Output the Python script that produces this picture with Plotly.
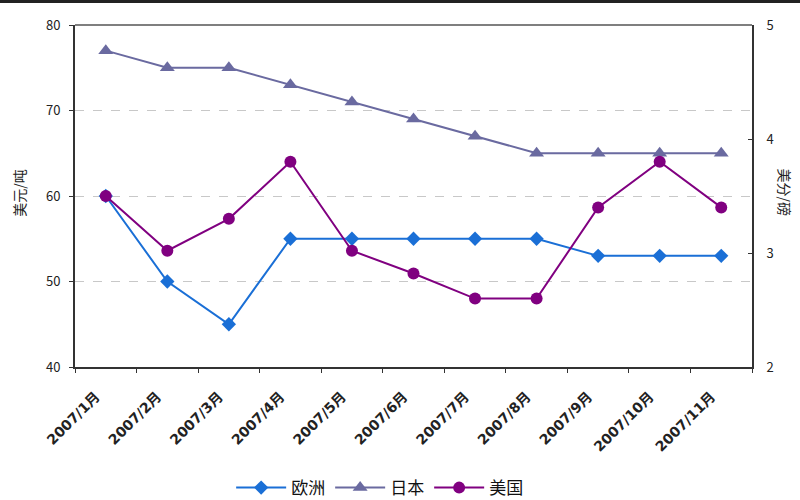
import plotly.graph_objects as go

months = ["2007/1月", "2007/2月", "2007/3月", "2007/4月", "2007/5月", "2007/6月",
          "2007/7月", "2007/8月", "2007/9月", "2007/10月", "2007/11月"]
europe = [60, 50, 45, 55, 55, 55, 55, 55, 53, 53, 53]
japan = [77, 75, 75, 73, 71, 69, 67, 65, 65, 65, 65]
usa = [3.5, 3.02, 3.3, 3.8, 3.02, 2.82, 2.6, 2.6, 3.4, 3.8, 3.4]

left_ticks = [40, 50, 60, 70, 80]
right_ticks = [2, 3, 4, 5]

FONT = "Noto Sans CJK SC, Liberation Sans, sans-serif"
TICKFONT = "DejaVu Sans, Noto Sans CJK SC, sans-serif"

fig = go.Figure()
fig.add_trace(go.Scatter(x=months, y=europe, name="欧洲", mode="lines+markers",
                         line=dict(color="#1a6fd6", width=2),
                         marker=dict(symbol="diamond", size=11, color="#1a6fd6")))
fig.add_trace(go.Scatter(x=months, y=japan, name="日本", mode="lines+markers",
                         line=dict(color="#6a6aa0", width=2),
                         marker=dict(symbol="triangle-up", size=13, color="#6a6aa0")))
fig.add_trace(go.Scatter(x=months, y=usa, name="美国", mode="lines+markers", yaxis="y2",
                         line=dict(color="#800080", width=2),
                         marker=dict(symbol="circle", size=12, color="#800080")))

fig.update_layout(
    width=800, height=500,
    paper_bgcolor="white", plot_bgcolor="white",
    margin=dict(l=75, r=48, t=25, b=133, autoexpand=False),
    font=dict(family=FONT, size=12, color="#222"),
    showlegend=True,
    legend=dict(orientation="h", x=0.45, xanchor="center", y=-0.354, yanchor="middle",
                font=dict(size=17, color="#111"), itemwidth=50, tracegroupgap=0),
    xaxis=dict(type="category", range=[-0.5, 10.5], tickangle=-45, automargin=False,
               showline=True, linecolor="#333", linewidth=2, mirror=False,
               ticks="outside", ticklen=4, tickcolor="#333", tickson="boundaries",
               ticklabelstandoff=14, ticklabelshift=-10,
               showgrid=False,
               tickfont=dict(family=TICKFONT, size=14, color="#222", weight="bold")),
    yaxis=dict(range=[40, 80], tickvals=left_ticks, automargin=False,
               showline=True, linecolor="#333", linewidth=2,
               ticks="outside", ticklen=4, tickcolor="#333", ticklabelstandoff=6,
               showgrid=True, gridcolor="#c8c8c8", griddash="dash", gridwidth=1,
               zeroline=False, tickfont=dict(size=13, color="#222")),
    yaxis2=dict(range=[2, 5], tickvals=right_ticks, overlaying="y", side="right",
                automargin=False,
                showline=True, linecolor="#333", linewidth=2,
                ticks="inside", ticklen=4, tickcolor="#333", ticklabelstandoff=10,
                showgrid=False, zeroline=False, tickfont=dict(size=13, color="#222")),
    annotations=[
        dict(text="美元/吨", xref="paper", yref="paper", x=-0.084, y=0.51,
             xanchor="center", yanchor="middle", textangle=-90, showarrow=False,
             font=dict(size=14, color="#222")),
        dict(text="美分/磅", xref="paper", yref="paper", x=1.049, y=0.51,
             xanchor="center", yanchor="middle", textangle=90, showarrow=False,
             font=dict(size=14, color="#222")),
    ],
)

fig.add_shape(type="line", xref="paper", yref="paper", x0=0, x1=1, y0=1, y1=1,
              line=dict(color="#555", width=1.5))
fig.add_shape(type="line", xref="paper", yref="paper", x0=-0.12, x1=1.08,
              y0=1.069, y1=1.069, line=dict(color="#222", width=3))

fig.write_html("out.html", config={"displayModeBar": False},
               post_script="document.body.style.margin='0';")
